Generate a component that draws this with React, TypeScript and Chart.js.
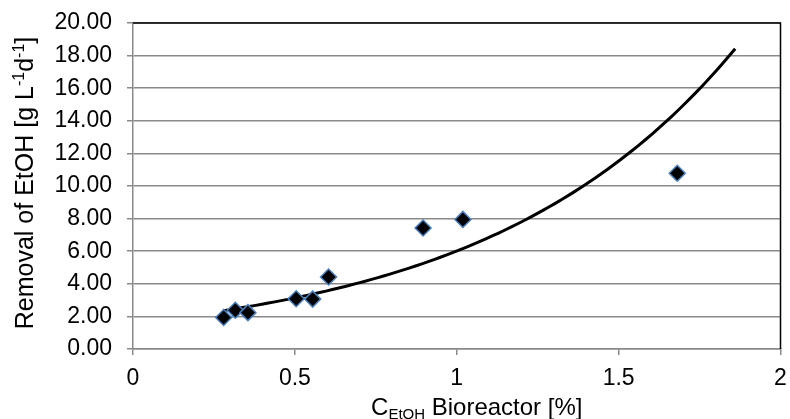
import React, { useEffect, useRef } from "react";
import { Chart, registerables } from "chart.js";

Chart.register(...registerables);

// Measured data points (C_EtOH in %, removal in g L-1 d-1)
const concentration = [0.28, 0.316, 0.355, 0.504, 0.555, 0.604, 0.896, 1.019, 1.681];
const removal = [1.93, 2.38, 2.23, 3.08, 3.06, 4.42, 7.42, 7.95, 10.78];

// Axis ticks
const xTicks = [0, 0.5, 1, 1.5, 2];
const yTicks = [0, 2, 4, 6, 8, 10, 12, 14, 16, 18, 20];

// Exponential trendline range (as drawn in the reference)
const trendRange = [0.28, 1.86];
const trendSamples = 80;

const FONT = "'Liberation Sans', Arial, sans-serif";
const GRID = "#8a8a8a";
const TICK_SIZE = 23;
const TITLE_SIZE = 24;
const Y_TITLE_SIZE = 25;

function expFit(xs: number[], ys: number[]) {
  const n = xs.length;
  const ly = ys.map((v) => Math.log(v));
  const mx = xs.reduce((a, b) => a + b, 0) / n;
  const my = ly.reduce((a, b) => a + b, 0) / n;
  let sxx = 0, sxy = 0;
  for (let i = 0; i < n; i++) {
    sxx += (xs[i] - mx) ** 2;
    sxy += (xs[i] - mx) * (ly[i] - my);
  }
  const b = sxy / sxx;
  const a = Math.exp(my - b * mx);
  return { a, b };
}

type Seg = { t: string; k: "n" | "sup" | "sub" };

function drawSegs(ctx: CanvasRenderingContext2D, segs: Seg[], size: number) {
  const small = Math.round(size * 0.64);
  const widths = segs.map((s) => {
    ctx.font = `${s.k === "n" ? size : small}px ${FONT}`;
    return ctx.measureText(s.t).width;
  });
  const total = widths.reduce((a, b) => a + b, 0);
  let x = -total / 2;
  segs.forEach((s, i) => {
    ctx.font = `${s.k === "n" ? size : small}px ${FONT}`;
    const dy = s.k === "sup" ? -size * 0.36 : s.k === "sub" ? size * 0.16 : 0;
    ctx.fillText(s.t, x, dy);
    x += widths[i];
  });
}

const decorPlugin = {
  id: "decor",
  beforeDatasetsDraw(chart: any) {
    const { ctx, chartArea } = chart;
    ctx.save();
    ctx.strokeStyle = "#000";
    ctx.lineWidth = 1.5;
    ctx.beginPath();
    ctx.moveTo(chartArea.left, chartArea.top);
    ctx.lineTo(chartArea.right, chartArea.top);
    ctx.lineTo(chartArea.right, chartArea.bottom);
    ctx.stroke();
    ctx.restore();
  },
  afterDraw(chart: any) {
    const { ctx, chartArea } = chart;
    ctx.save();
    ctx.fillStyle = "#000";
    ctx.textBaseline = "alphabetic";
    ctx.textAlign = "left";
    // Y title
    ctx.save();
    ctx.translate(33, 183);
    ctx.rotate(-Math.PI / 2);
    drawSegs(
      ctx,
      [
        { t: "Removal of EtOH [g L", k: "n" },
        { t: "-1", k: "sup" },
        { t: "d", k: "n" },
        { t: "-1", k: "sup" },
        { t: "]", k: "n" },
      ],
      Y_TITLE_SIZE
    );
    ctx.restore();
    // X title
    ctx.save();
    ctx.translate((chartArea.left + chartArea.right) / 2 + 20, 415);
    drawSegs(
      ctx,
      [
        { t: "C", k: "n" },
        { t: "EtOH", k: "sub" },
        { t: " Bioreactor [%]", k: "n" },
      ],
      TITLE_SIZE
    );
    ctx.restore();
    ctx.restore();
  },
};

export default function App() {
  const ref = useRef<HTMLCanvasElement | null>(null);

  useEffect(() => {
    document.body.style.margin = "0";
    if (!ref.current) return;
    const { a, b } = expFit(concentration, removal);
    const trend: { x: number; y: number }[] = [];
    for (let i = 0; i <= trendSamples; i++) {
      const x = trendRange[0] + ((trendRange[1] - trendRange[0]) * i) / trendSamples;
      trend.push({ x, y: a * Math.exp(b * x) });
    }
    const points = concentration.map((x, i) => ({ x, y: removal[i] }));

    const chart = new Chart(ref.current, {
      type: "scatter",
      data: {
        datasets: [
          {
            data: points,
            pointStyle: "rectRot",
            pointRadius: 8,
            pointHoverRadius: 8,
            backgroundColor: "#000",
            borderColor: "#4a7ebb",
            borderWidth: 1.5,
            order: 0,
          },
          {
            type: "line",
            data: trend,
            showLine: true,
            pointRadius: 0,
            borderColor: "#000",
            borderWidth: 3,
            fill: false,
            tension: 0,
            order: 1,
          } as any,
        ],
      },
      plugins: [decorPlugin],
      options: {
        animation: false,
        responsive: false,
        events: [],
        layout: { padding: { top: 23, right: 7, left: 0, bottom: 0 } },
        plugins: { legend: { display: false }, tooltip: { enabled: false } },
        scales: {
          x: {
            type: "linear",
            min: 0,
            max: 2,
            afterBuildTicks: (s: any) => {
              s.ticks = xTicks.map((v) => ({ value: v }));
            },
            afterFit: (s: any) => {
              s.height = 70;
              s.paddingLeft = 0;
              s.paddingRight = 0;
            },
            ticks: {
              color: "#000",
              font: { family: FONT, size: TICK_SIZE },
              padding: 10,
              maxRotation: 0,
              callback: (v: any) => String(v),
            },
            grid: {
              drawOnChartArea: false,
              drawTicks: true,
              tickLength: 6,
              color: GRID,
              lineWidth: 1.5,
            },
            border: { color: GRID, width: 1.5 },
          },
          y: {
            type: "linear",
            min: 0,
            max: 20,
            afterBuildTicks: (s: any) => {
              s.ticks = yTicks.map((v) => ({ value: v }));
            },
            afterFit: (s: any) => {
              s.width = 133;
              s.paddingTop = 0;
              s.paddingBottom = 0;
            },
            ticks: {
              color: "#000",
              font: { family: FONT, size: TICK_SIZE },
              padding: 15,
              callback: (v: any) => Number(v).toFixed(2),
            },
            grid: {
              drawTicks: true,
              tickLength: 6,
              color: GRID,
              lineWidth: 1.5,
            },
            border: { color: GRID, width: 1.5 },
          },
        },
      },
    });
    return () => chart.destroy();
  }, []);

  return (
    <div style={{ width: 790, height: 419 }}>
      <canvas ref={ref} width={790} height={419} style={{ display: "block", width: 790, height: 419 }} />
    </div>
  );
}
